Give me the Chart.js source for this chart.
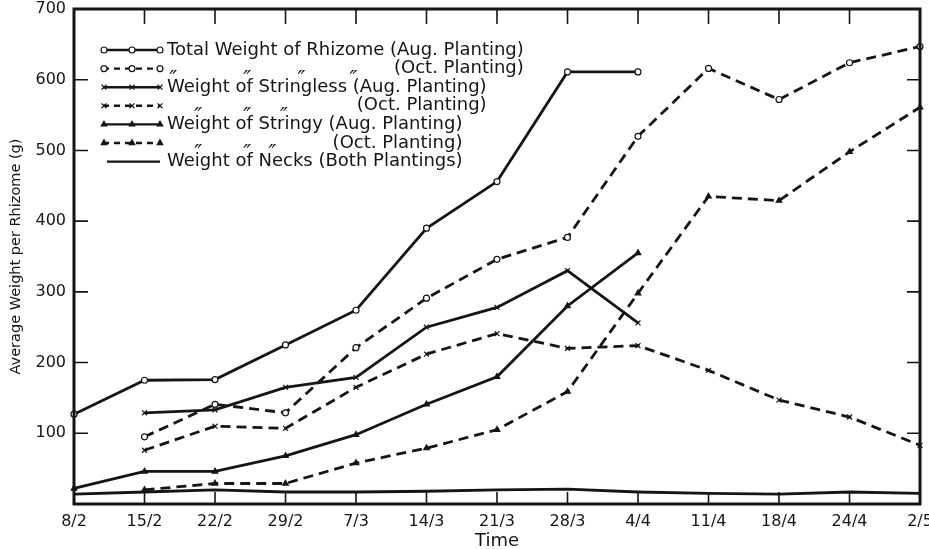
<!DOCTYPE html>
<html>
<head>
<meta charset="utf-8">
<script src="https://cdn.jsdelivr.net/npm/chart.js@4.4.1/dist/chart.umd.min.js"></script>
<style>
    html, body { margin: 0; padding: 0; background: #fff; }
</style>
</head>
<body>
<canvas id="rhizomeChart" width="929" height="549"></canvas>
<script>
const dates = ['8/2', '15/2', '22/2', '29/2', '7/3', '14/3', '21/3', '28/3', '4/4', '11/4', '18/4', '24/4', '2/5'];

const totalAug      = [127, 175, 176, 225, 274, 390, 456, 611, 611, null, null, null, null];
const totalOct      = [null, 95, 141, 129, 221, 291, 346, 377, 520, 616, 572, 624, 647];
const stringlessAug = [null, 129, 133, 165, 179, 250, 278, 330, 256, null, null, null, null];
const stringlessOct = [null, 76, 110, 107, 165, 212, 241, 220, 224, 189, 147, 123, 83];
const stringyAug    = [22, 46, 46, 68, 98, 141, 180, 280, 355, null, null, null, null];
const stringyOct    = [null, 20, 29, 29, 58, 79, 105, 159, 298, 435, 429, 498, 561];
const necks         = [14, 17, 20, 17, 17, 18, 20, 21, 17, 15, 14, 17, 15];

const yTicks = [100, 200, 300, 400, 500, 600, 700];

const INK = '#151515';
const DASH = [10, 6];

function series(data, style, dashed) {
    const ds = {
        data: data,
        borderColor: INK,
        backgroundColor: '#fff',
        borderWidth: 2.8,
        borderDash: dashed ? DASH : [],
        tension: 0,
        spanGaps: false,
        pointStyle: style || false,
        pointRadius: style ? 3 : 0,
        pointBorderWidth: 1.2,
        pointBorderColor: INK,
        pointBackgroundColor: '#fff'
    };
    if (style === 'crossRot') ds.pointRadius = 3.5;
    if (style === 'triangle') {
        ds.pointBackgroundColor = INK;
        ds.pointRadius = 3.2;
    }
    return ds;
}

// legend rows: text, dataset index, whether it hangs right under the previous row, ditto marks
const legendRows = [
    { text: 'Total Weight of Rhizome (Aug. Planting)', ds: 0 },
    { text: '(Oct. Planting)', ds: 1, hang: true },
    { text: 'Weight of Stringless (Aug. Planting)', ds: 2, ditto: [['Weight', 0.05], ['of', 0.5], ['Stringless', 0.45], ['(Aug.', -0.05]] },
    { text: '(Oct. Planting)', ds: 3, hang: true },
    { text: 'Weight of Stringy (Aug. Planting)', ds: 4, ditto: [['Weight', 0.45], ['of', 0.5], ['Stringy', 0.35]] },
    { text: '(Oct. Planting)', ds: 5, hang: true },
    { text: 'Weight of Necks (Both Plantings)', ds: 6, ditto: [['Weight', 0.45], ['of', 0.5], ['Necks', 0.2]] }
];

const legendPlugin = {
    id: 'scanLegend',
    afterDraw(chart) {
        const ctx = chart.ctx;
        const x0 = 167, y0 = 50, rowH = 18.6;
        ctx.save();
        ctx.font = '18px "DejaVu Sans"';
        ctx.fillStyle = INK;
        ctx.textBaseline = 'middle';
        let prevRight = x0;
        legendRows.forEach((row, i) => {
            const y = y0 + i * rowH;
            const ds = chart.data.datasets[row.ds];

            // sample line
            ctx.strokeStyle = INK;
            ctx.lineWidth = 2.4;
            ctx.setLineDash(ds.borderDash.length ? [6, 5] : []);
            ctx.beginPath();
            ctx.moveTo(ds.pointStyle ? 103 : 107, y);
            ctx.lineTo(160, y);
            ctx.stroke();
            ctx.setLineDash([]);
            if (ds.pointStyle) {
                [104, 132, 160].forEach(px => {
                    ctx.fillStyle = ds.pointBackgroundColor;
                    ctx.strokeStyle = INK;
                    ctx.lineWidth = 1.2;
                    Chart.helpers.drawPoint(ctx, { pointStyle: ds.pointStyle, radius: ds.pointRadius, borderWidth: 1.2, rotation: 0 }, px, y);
                });
            }

            // text
            ctx.fillStyle = INK;
            ctx.font = '18px "DejaVu Sans"';
            if (row.hang) {
                ctx.textAlign = 'right';
                ctx.fillText(row.text, prevRight, y);
            } else {
                ctx.textAlign = 'left';
                ctx.fillText(row.text, x0, y);
                prevRight = x0 + ctx.measureText(row.text).width;
            }
            if (row.ditto) {
                const spots = row.ditto.map(([word, frac]) => {
                    const idx = row.text.indexOf(word);
                    return x0 + ctx.measureText(row.text.slice(0, idx)).width + frac * ctx.measureText(word).width;
                });
                ctx.font = 'italic 21px "DejaVu Sans"';
                ctx.textAlign = 'center';
                spots.forEach(wx => ctx.fillText('\u2033', wx + 3, y - 7));
            }
        });
        ctx.restore();
    }
};

const framePlugin = {
    id: 'frame',
    afterDatasetsDraw(chart) {
        const { ctx, chartArea: a, scales } = chart;
        const x = scales.x, y = scales.y;
        ctx.save();
        ctx.strokeStyle = INK;
        ctx.lineWidth = 3;
        ctx.strokeRect(a.left, a.top, a.right - a.left, a.bottom - a.top);
        ctx.lineWidth = 1.6;
        ctx.beginPath();
        x.ticks.forEach((t, i) => {
            if (i === 0 || i === x.ticks.length - 1) return;
            const px = x.getPixelForTick(i);
            ctx.moveTo(px, a.bottom);
            ctx.lineTo(px, a.bottom - 12);
            ctx.moveTo(px, a.top);
            ctx.lineTo(px, a.top + 15);
        });
        y.ticks.forEach(t => {
            if (t.value <= 0 || t.value >= 700) return;
            const py = y.getPixelForValue(t.value);
            ctx.moveTo(a.left, py);
            ctx.lineTo(a.left + 14, py);
            ctx.moveTo(a.right, py);
            ctx.lineTo(a.right - 13, py);
        });
        ctx.stroke();
        ctx.restore();
    }
};

Chart.defaults.font.family = '"DejaVu Sans", sans-serif';
Chart.defaults.color = INK;

const ctx = document.getElementById('rhizomeChart').getContext('2d');
new Chart(ctx, {
    type: 'line',
    data: {
        labels: dates,
        datasets: [
            series(totalAug, 'circle', false),
            series(totalOct, 'circle', true),
            series(stringlessAug, 'crossRot', false),
            series(stringlessOct, 'crossRot', true),
            series(stringyAug, 'triangle', false),
            series(stringyOct, 'triangle', true),
            series(necks, null, false)
        ]
    },
    options: {
        responsive: false,
        animation: false,
        layout: { padding: { top: 9, right: 9, bottom: 0, left: 0 } },
        plugins: {
            legend: { display: false },
            tooltip: { enabled: false }
        },
        scales: {
            x: {
                offset: false,
                grid: { display: false, drawTicks: false },
                border: { display: false },
                ticks: { font: { size: 16 }, padding: 8, maxRotation: 0, autoSkip: false },
                title: { display: true, text: 'Time', font: { size: 18 }, padding: { top: 0, bottom: -3 } },
                afterFit(scale) {
                    scale.height = 45;
                    scale.paddingLeft = 0;
                    scale.paddingRight = 0;
                }
            },
            y: {
                min: 0,
                max: 700,
                afterBuildTicks(scale) {
                    scale.ticks = [0].concat(yTicks).map(v => ({ value: v }));
                },
                grid: { display: false, drawTicks: false },
                border: { display: false },
                ticks: {
                    font: { size: 16 },
                    padding: 8,
                    callback: v => (v === 0 ? '' : v)
                },
                title: { display: true, text: 'Average Weight per Rhizome (g)', font: { size: 14.5 }, padding: { top: 8, bottom: 0 } },
                afterFit(scale) {
                    scale.width = 74;
                    scale.paddingTop = 0;
                    scale.paddingBottom = 0;
                }
            }
        }
    },
    plugins: [framePlugin, legendPlugin]
});
</script>
</body>
</html>
